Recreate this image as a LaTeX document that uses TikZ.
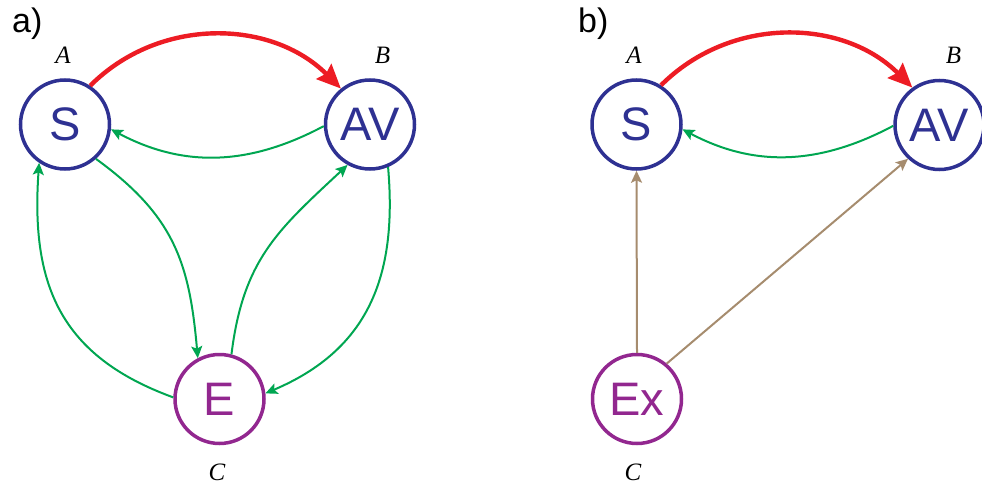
\documentclass[tikz,border=0pt]{standalone}
\usepackage{fontspec}
\setmainfont{Liberation Serif}
\setsansfont{Liberation Sans}
\usetikzlibrary{arrows.meta}
\definecolor{agentblue}{RGB}{46,49,146}
\definecolor{envpurple}{RGB}{146,39,143}
\definecolor{actred}{RGB}{237,28,36}
\definecolor{fbgreen}{RGB}{0,166,81}
\definecolor{exttan}{RGB}{166,140,110}
\tikzstyle{state}=[circle,line width=3.5pt,minimum size=89pt,inner sep=0pt,font=\sffamily\fontsize{47}{47}\selectfont]
\tikzstyle{agent}=[draw=agentblue,text=agentblue]
\tikzstyle{env}=[draw=envpurple,text=envpurple]
\tikzstyle{role}=[inner sep=0pt,font=\itshape\fontsize{25}{25}\selectfont]
\tikzstyle{panel}=[anchor=base west,inner sep=0pt,font=\sffamily\fontsize{34}{34}\selectfont]
\tikzstyle{act}=[draw=actred,line width=4.4pt,-{Stealth[length=24pt,width=21pt,inset=3pt]}]
\tikzstyle{fb}=[draw=fbgreen,line width=2pt,-{Stealth[length=12pt,width=11pt,inset=2.5pt]}]
\tikzstyle{ext}=[draw=exttan,line width=2pt,-{Stealth[length=12pt,width=11pt,inset=2.5pt]}]

\begin{document}
\begin{tikzpicture}[x=1pt,y=1pt]
\useasboundingbox (0,0) rectangle (982,491);
% a)
\node [panel] (la) at (12,458) {a)};
\node [state,agent] (Sa) at (65,366.5) {S};
\node [state,agent] (AVa) at (370,366.5) {AV};
\node [state,env] (Ea) at (219.5,92) {E};
\node [role] (Aa) at (63,435.5) {A};
\node [role] (Ba) at (382.5,435.5) {B};
\node [role] (Ca) at (217,19) {C};
\draw [act] (Sa.57) to[out=45,in=135] (AVa.129);
\draw [fb] (AVa.182) to[out=208,in=-28] (Sa.-6);
\draw [fb] (Sa.-48) to[out=-36,in=95,looseness=1.1] (Ea.118);
\draw [fb] (Ea.75) to[out=83,in=-137,looseness=1.1] (AVa.-119);
\draw [fb] (AVa.-67) to[out=-85,in=23,looseness=1.1] (Ea.7);
\draw [fb] (Ea.178) to[out=160,in=-94,looseness=1.15] (Sa.-124);
% b)
\node [panel] (lb) at (578,458) {b)};
\node [state,agent] (Sb) at (636.5,366.5) {S};
\node [state,agent] (AVb) at (939.5,366) {AV};
\node [state,env] (Exb) at (637,92) {Ex};
\node [role] (Ab) at (634,435.5) {A};
\node [role] (Bb) at (953.5,435.5) {B};
\node [role] (Cb) at (633,19) {C};
\draw [act] (Sb.58) to[out=45,in=135] (AVb.126);
\draw [fb] (AVb.181) to[out=208,in=-28] (Sb.-6);
\draw [ext] (Exb.90) -- (Sb.-90);
\draw [ext] (Exb.50) -- (AVb.-133);
\end{tikzpicture}
\end{document}
